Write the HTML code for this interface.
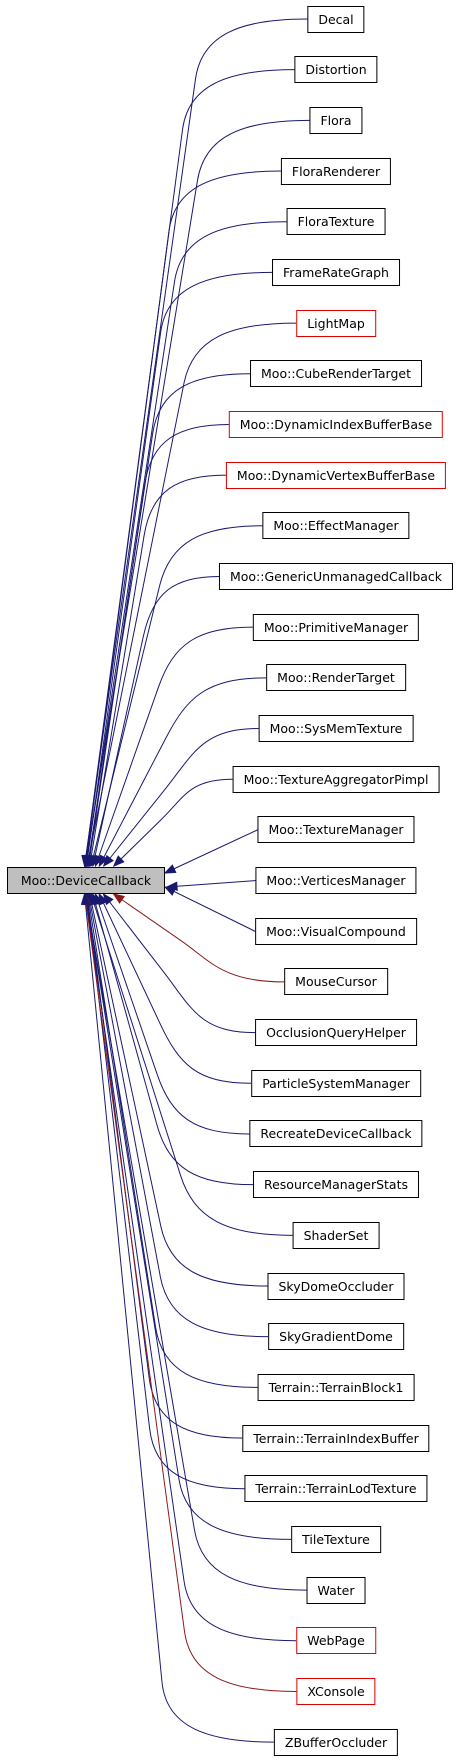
<!DOCTYPE html>
<html><head><meta charset="utf-8"><style>
html,body{margin:0;padding:0;background:#fff;width:464px;height:1760px;overflow:hidden}
#c{position:relative;width:464px;height:1760px}
svg{position:absolute;left:0;top:0}
.n{position:absolute;height:25px;line-height:25px;border:1px solid #000;background:#fff;font-family:"DejaVu Sans","Liberation Sans",sans-serif;font-size:12.5px;color:#000;padding:0 10px;white-space:nowrap;transform:translateX(-50%)}
.r{border-color:#e00000}
#m{left:7px;top:867px;width:136px;padding:0 10px;background:#bfbfbf;transform:none;text-align:center;font-size:12.5px}
</style></head><body><div id="c">
<svg id="s" width="464" height="1760"></svg>
<div class="n" id="m">Moo::DeviceCallback</div>
</div>
<script>
var names=["Decal","Distortion","Flora","FloraRenderer","FloraTexture","FrameRateGraph","LightMap","Moo::CubeRenderTarget","Moo::DynamicIndexBufferBase","Moo::DynamicVertexBufferBase","Moo::EffectManager","Moo::GenericUnmanagedCallback","Moo::PrimitiveManager","Moo::RenderTarget","Moo::SysMemTexture","Moo::TextureAggregatorPimpl","Moo::TextureManager","Moo::VerticesManager","Moo::VisualCompound","MouseCursor","OcclusionQueryHelper","ParticleSystemManager","RecreateDeviceCallback","ResourceManagerStats","ShaderSet","SkyDomeOccluder","SkyGradientDome","Terrain::TerrainBlock1","Terrain::TerrainIndexBuffer","Terrain::TerrainLodTexture","TileTexture","Water","WebPage","XConsole","ZBufferOccluder"];
var redBox={"LightMap":1,"Moo::DynamicIndexBufferBase":1,"Moo::DynamicVertexBufferBase":1,"WebPage":1,"XConsole":1};
var redEdge={"MouseCursor":1,"XConsole":1};
var c=document.getElementById('c'),s=document.getElementById('s');
var out='';
var MY=880;
names.forEach(function(n,i){
 var cy=19+i*50.68;
 var d=document.createElement('div');
 d.className='n'+(redBox[n]?' r':'');
 d.textContent=n;
 d.style.left='336px';d.style.top=(cy-13.5)+'px';
 c.appendChild(d);
 var w=d.offsetWidth;
 var left=336-w/2;
 var col=redEdge[n]?'#8b1a1a':'#191970';
 var dy=cy-MY,ex,ey,p,ax,ay;
 var a=Math.abs(dy),sg=dy<0?-1:1;
 if(a<60){
  ex=165;ey=MY+(dy<0?-7:dy>0?7:0);
  if(a<5){ex=167;}
  p='M'+left+','+cy+' L'+ex+','+ey;
  ax=left;ay=cy;
 } else {
  ex=80+Math.min(1,130/a)*30;
  if(a<160){ex=102+(160-a)*0.2;}
  ey=dy<0?866:894;
  var vb=Math.min(60,a*0.4);
  var hb=Math.min(112,(left-ex)*0.6);
  var bx=left-hb,by=cy-sg*vb;
  var sx=ex-bx,sy=ey-by,sl=Math.sqrt(sx*sx+sy*sy);sx/=sl;sy/=sl;
  var k=Math.min(45,vb*0.8);
  p='M'+left+','+cy+' C'+(left-hb*0.6)+','+cy+' '+(bx-sx*k)+','+(by-sy*k)+' '+bx+','+by+' L'+ex+','+ey;
  ax=bx;ay=by;
 }
 var vx=ex-ax,vy=ey-ay,L=Math.sqrt(vx*vx+vy*vy);vx/=L;vy/=L;
 var hx=ex-vx*10,hy=ey-vy*10,px=-vy*4,py=vx*4;
 out+='<path d="'+p+'" fill="none" stroke="'+col+'" stroke-width="1"/>';
 out+='<polygon points="'+ex+','+ey+' '+(hx+px)+','+(hy+py)+' '+(hx-px)+','+(hy-py)+'" fill="'+col+'" stroke="'+col+'"/>';
});
s.innerHTML=out;
</script>
</body></html>
